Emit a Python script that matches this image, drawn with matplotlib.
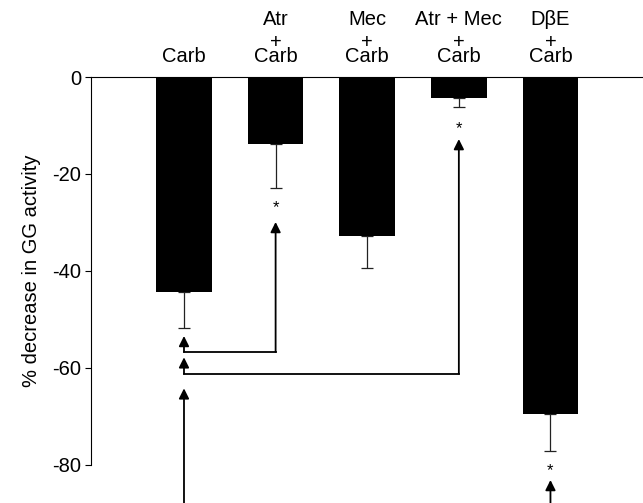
import matplotlib
matplotlib.use("Agg")
import matplotlib.pyplot as plt

plt.rcParams['font.family'] = ['Liberation Sans', 'DejaVu Sans']

# ---- data ----
top_lines = ["", "Atr", "Mec", "Atr + Mec", "D\u03b2E"]
plus_lines = ["", "+", "+", "+", "+"]
bottom_lines = ["Carb", "Carb", "Carb", "Carb", "Carb"]
values = [-44.3, -13.8, -32.7, -4.4, -69.5]
errors = [7.5, 9.0, 6.6, 1.8, 7.6]
yticks = [0, -20, -40, -60, -80]

# comparisons: (from bar, to bar, bracket level, tip at "from", tip at "to")
comp_from = [0, 0, 0]
comp_to = [1, 3, 4]
comp_level = [-56.7, -61.2, -95.0]
comp_tip_from = [-53.4, -57.8, -64.2]
comp_tip_to = [-29.9, -12.8, -83.1]
star_bar = [1, 3, 4]
star_y = [-26.9, -10.7, -81.2]

fig = plt.figure(figsize=(6.43, 5.03), dpi=100)
ax = fig.add_axes([91/643, 0.0, 1 - 91/643, 1 - 77/503])

x = list(range(len(values)))
ax.bar(x, values, width=0.606, color='black', zorder=2)
ax.errorbar(x, values, yerr=[errors, [0]*len(errors)], fmt='none',
            ecolor='#222222', elinewidth=0.9, capsize=4.3, capthick=0.9, zorder=1)

ax.set_xlim(-1.015, 5.01)
ax.set_ylim(-87.84, 0)

for s in ['right', 'bottom']:
    ax.spines[s].set_visible(False)
ax.spines['left'].set_bounds(-80, 0)
ax.spines['left'].set_linewidth(0.8)
ax.spines['top'].set_linewidth(0.8)
ax.set_xticks([])
ax.set_yticks(yticks)
ax.set_yticklabels([str(v) for v in yticks], fontsize=14.5)
ax.tick_params(axis='y', direction='out', length=4, width=0.8, pad=3)
ax.set_ylabel("% decrease in GG activity", fontsize=14.5)
ax.yaxis.set_label_coords(-0.09, 1 - 40/87.84)

# top category labels
for i in x:
    ax.annotate(bottom_lines[i], xy=(i, 0), xycoords='data', xytext=(0, 10.8),
                textcoords='offset points', ha='center', va='baseline', fontsize=14.5)
    if plus_lines[i]:
        ax.annotate(plus_lines[i], xy=(i, 0), xycoords='data', xytext=(0, 21.0),
                    textcoords='offset points', ha='center', va='baseline', fontsize=14.5)
    if top_lines[i]:
        ax.annotate(top_lines[i], xy=(i, 0), xycoords='data', xytext=(0, 37.4),
                    textcoords='offset points', ha='center', va='baseline', fontsize=14.5)

# comparison arrows
aprops = dict(arrowstyle='-|>,head_length=0.6,head_width=0.3', color='black',
              lw=1.3, shrinkA=0, shrinkB=0)
for a, b, lev, ta, tb in zip(comp_from, comp_to, comp_level, comp_tip_from, comp_tip_to):
    ax.plot([a, b], [lev, lev], color='black', lw=1.3, solid_capstyle='projecting')
    ax.annotate('', xy=(a, ta), xytext=(a, lev), arrowprops=aprops, annotation_clip=False)
    ax.annotate('', xy=(b, tb), xytext=(b, lev), arrowprops=aprops, annotation_clip=False)

for i, yv in zip(star_bar, star_y):
    ax.text(i, yv, '*', ha='center', va='center', fontsize=12)

fig.savefig('out.png', dpi=100)
